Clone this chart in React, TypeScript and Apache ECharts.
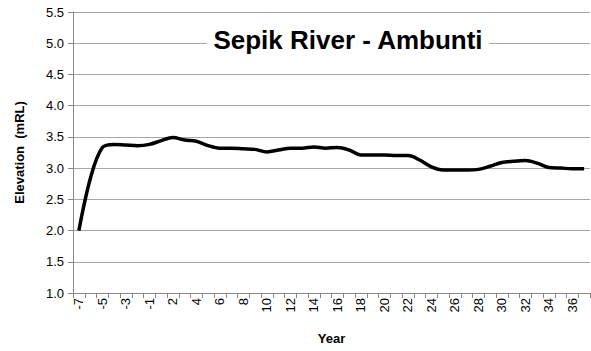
import React, { useEffect, useRef } from "react";
import * as echarts from "echarts";

const years: string[] = [
  "-7", "-6", "-5", "-4", "-3", "-2", "-1",
  "1", "2", "3", "4", "5", "6", "7", "8", "9", "10",
  "11", "12", "13", "14", "15", "16", "17", "18", "19", "20",
  "21", "22", "23", "24", "25", "26", "27", "28", "29", "30",
  "31", "32", "33", "34", "35", "36", "37",
];

const elevation: number[] = [
  2.0, 2.85, 3.33, 3.38, 3.37, 3.36, 3.38,
  3.44, 3.49, 3.45, 3.43, 3.36, 3.32, 3.32, 3.31, 3.3, 3.26,
  3.29, 3.32, 3.32, 3.34, 3.32, 3.33, 3.29, 3.21, 3.21, 3.21,
  3.2, 3.2, 3.13, 3.02, 2.97, 2.97, 2.97, 2.98, 3.03, 3.09,
  3.11, 3.12, 3.08, 3.01, 3.0, 2.99, 2.99,
];

const titleText = "Sepik River - Ambunti";
const yName = "Elevation  (mRL)";
const xName = "Year";

const FONT = "Liberation Sans";

export default function App() {
  const ref = useRef<HTMLDivElement>(null);
  useEffect(() => {
    if (!ref.current) return;
    const chart = echarts.init(ref.current, null, { renderer: "svg" });
    chart.setOption({
      animation: false,
      backgroundColor: "#ffffff",
      title: {
        text: titleText,
        left: 342,
        textAlign: "center",
        top: 25,
        padding: [2, 6],
        backgroundColor: "#ffffff",
        textStyle: {
          fontFamily: FONT,
          fontWeight: "bold",
          fontSize: 26,
          color: "#000000",
        },
      },
      grid: { left: 73, right: 1, top: 12, bottom: 58, containLabel: false },
      xAxis: {
        type: "category",
        data: years,
        boundaryGap: true,
        name: xName,
        nameLocation: "middle",
        nameGap: 39,
        nameTextStyle: { fontFamily: FONT, fontWeight: "bold", fontSize: 13, color: "#000" },
        axisLine: { lineStyle: { color: "#888888", width: 1 } },
        axisTick: { show: true, interval: 0, length: 5, lineStyle: { color: "#888888" } },
        axisLabel: {
          interval: 1,
          rotate: 90,
          fontFamily: FONT,
          fontSize: 13,
          color: "#000",
          margin: 5,
        },
        splitLine: { show: false },
      },
      yAxis: {
        type: "value",
        min: 1.0,
        max: 5.5,
        interval: 0.5,
        name: yName,
        nameLocation: "middle",
        nameGap: 47,
        nameTextStyle: { fontFamily: FONT, fontWeight: "bold", fontSize: 13, color: "#000" },
        axisLine: { show: true, lineStyle: { color: "#888888", width: 1 } },
        axisTick: { show: true, length: 5, lineStyle: { color: "#888888" } },
        axisLabel: {
          formatter: (v: number) => v.toFixed(1),
          fontFamily: FONT,
          fontSize: 13,
          color: "#000",
          margin: 9,
        },
        splitLine: { show: true, lineStyle: { color: "#a6a6a6", width: 1 } },
      },
      series: [
        {
          type: "line",
          data: elevation,
          smooth: 0.35,
          symbol: "none",
          lineStyle: { color: "#000000", width: 3.5 },
          z: 3,
        },
      ],
    });
    return () => chart.dispose();
  }, []);
  return (
    <div
      ref={ref}
      style={{ position: "fixed", left: 0, top: 0, width: 591, height: 351 }}
    />
  );
}
